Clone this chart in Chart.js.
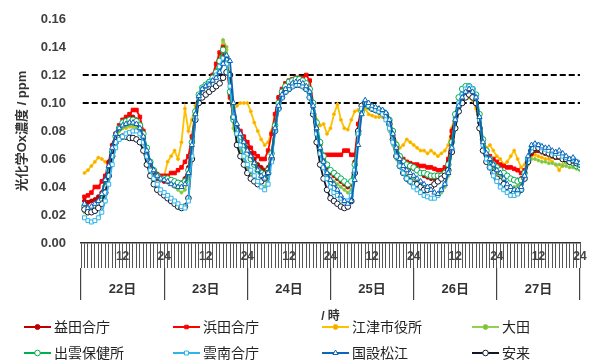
<!DOCTYPE html>
<html>
<head>
<meta charset="utf-8">
<script src="https://cdn.jsdelivr.net/npm/chart.js@4.4.0/dist/chart.umd.min.js"></script>
<style>
  body { margin: 0; background: #fff; }
  #wrap { width: 589px; height: 362px; }
</style>
</head>
<body>
<div id="wrap"><canvas id="ox-chart"></canvas></div>
<script>
// hourly photochemical oxidant, hour 1..24 for each day
const days = ['22日', '23日', '24日', '25日', '26日', '27日'];
const hours = Array.from({ length: 144 }, (_, i) => i + 1);
const warnLevels = [0.12, 0.10];

const masuda = [
  0.030,0.029,0.030,0.031,0.033,0.036,0.045,0.058,0.070,0.078,0.082,0.085,0.088,0.089,0.090,0.088,0.084,0.076,0.064,0.056,0.050,0.046,0.045,0.044,
  0.044,0.043,0.042,0.042,0.043,0.046,0.054,0.072,0.092,0.104,0.110,0.112,0.114,0.116,0.120,0.126,0.134,0.130,0.106,0.088,0.082,0.078,0.072,0.068,
  0.064,0.060,0.056,0.054,0.052,0.054,0.064,0.082,0.098,0.108,0.112,0.115,0.116,0.117,0.117,0.116,0.114,0.110,0.094,0.082,0.070,0.060,0.054,0.050,
  0.048,0.046,0.044,0.042,0.040,0.042,0.058,0.080,0.096,0.100,0.098,0.096,0.095,0.094,0.093,0.090,0.086,0.076,0.066,0.060,0.057,0.055,0.054,0.053,
  0.052,0.050,0.048,0.047,0.046,0.046,0.046,0.048,0.050,0.058,0.076,0.090,0.100,0.106,0.108,0.108,0.106,0.100,0.086,0.072,0.064,0.060,0.056,0.054,
  0.052,0.050,0.048,0.046,0.045,0.045,0.046,0.050,0.058,0.064,0.066,0.066,0.065,0.064,0.063,0.062,0.061,0.061,0.060,0.059,0.058,0.057,0.056,0.055
];
const hamada = [
  0.033,0.034,0.036,0.040,0.040,0.044,0.048,0.056,0.066,0.078,0.084,0.088,0.090,0.092,0.095,0.095,0.090,0.080,0.066,0.058,0.052,0.049,0.048,0.048,
  0.048,0.050,0.050,0.052,0.054,0.058,0.062,0.076,0.094,0.106,0.110,0.112,0.115,0.120,0.128,0.136,0.140,0.132,0.104,0.090,0.084,0.080,0.076,0.072,
  0.068,0.064,0.062,0.060,0.060,0.066,0.078,0.092,0.104,0.110,0.114,0.116,0.117,0.118,0.118,0.118,0.120,0.116,0.100,0.080,0.066,0.063,0.063,0.063,
  0.063,0.063,0.063,0.066,0.066,0.063,0.063,0.085,0.098,0.100,0.098,0.096,0.095,0.094,0.093,0.090,0.086,0.078,0.068,0.062,0.060,0.058,0.057,0.056,
  0.056,0.055,0.055,0.054,0.054,0.053,0.052,0.052,0.054,0.060,0.080,0.090,0.098,0.104,0.106,0.107,0.106,0.100,0.088,0.074,0.066,0.062,0.060,0.058,
  0.056,0.055,0.054,0.054,0.053,0.052,0.050,0.052,0.058,0.064,0.066,0.066,0.065,0.064,0.063,0.062,0.061,0.061,0.060,0.059,0.058,0.057,0.056,0.055
];
const gotsu = [
  0.050,0.052,0.055,0.058,0.061,0.060,0.058,0.056,0.062,0.074,0.080,0.082,0.082,0.083,0.083,0.082,0.080,0.074,0.064,0.056,0.052,0.050,0.048,0.048,
  0.058,0.062,0.066,0.060,0.072,0.096,0.080,0.088,0.098,0.106,0.110,0.112,0.115,0.118,0.124,0.134,0.144,0.138,0.112,0.096,0.098,0.100,0.100,0.100,
  0.094,0.086,0.080,0.074,0.070,0.072,0.080,0.092,0.102,0.108,0.112,0.114,0.115,0.116,0.116,0.115,0.112,0.106,0.096,0.088,0.084,0.085,0.078,0.082,
  0.092,0.099,0.088,0.082,0.081,0.088,0.094,0.095,0.098,0.096,0.092,0.091,0.090,0.090,0.090,0.088,0.084,0.078,0.072,0.068,0.070,0.074,0.072,0.070,
  0.068,0.066,0.066,0.064,0.066,0.064,0.062,0.064,0.066,0.070,0.082,0.092,0.098,0.102,0.104,0.104,0.102,0.096,0.082,0.072,0.068,0.070,0.066,0.062,
  0.060,0.056,0.058,0.062,0.066,0.060,0.054,0.056,0.060,0.062,0.063,0.062,0.061,0.060,0.060,0.058,0.056,0.052,0.056,0.058,0.057,0.056,0.055,0.054
];
const oda = [
  0.022,0.021,0.022,0.024,0.026,0.030,0.040,0.052,0.066,0.076,0.080,0.082,0.083,0.084,0.084,0.083,0.080,0.074,0.064,0.056,0.050,0.047,0.045,0.044,
  0.043,0.042,0.040,0.038,0.036,0.038,0.046,0.068,0.092,0.104,0.110,0.112,0.115,0.120,0.126,0.134,0.145,0.140,0.110,0.082,0.072,0.066,0.060,0.054,
  0.050,0.046,0.042,0.040,0.040,0.046,0.062,0.084,0.100,0.108,0.112,0.114,0.116,0.117,0.117,0.116,0.114,0.108,0.096,0.080,0.066,0.056,0.050,0.046,
  0.044,0.042,0.040,0.038,0.036,0.038,0.054,0.078,0.094,0.098,0.096,0.095,0.094,0.093,0.092,0.088,0.080,0.070,0.060,0.054,0.050,0.048,0.046,0.046,
  0.044,0.043,0.042,0.040,0.038,0.036,0.035,0.036,0.040,0.048,0.066,0.088,0.100,0.106,0.110,0.111,0.108,0.102,0.086,0.068,0.060,0.056,0.052,0.050,
  0.048,0.045,0.042,0.040,0.040,0.041,0.042,0.048,0.056,0.060,0.060,0.059,0.058,0.058,0.057,0.057,0.056,0.056,0.055,0.055,0.054,0.054,0.053,0.052
];
const izumo = [
  0.026,0.024,0.024,0.025,0.027,0.030,0.040,0.052,0.065,0.076,0.082,0.086,0.087,0.088,0.088,0.087,0.084,0.078,0.068,0.058,0.052,0.048,0.046,0.046,
  0.046,0.045,0.044,0.043,0.042,0.044,0.052,0.072,0.094,0.106,0.111,0.113,0.115,0.118,0.122,0.130,0.138,0.132,0.108,0.088,0.080,0.076,0.070,0.064,
  0.060,0.056,0.052,0.050,0.049,0.052,0.064,0.084,0.100,0.108,0.112,0.115,0.116,0.117,0.117,0.116,0.114,0.110,0.100,0.086,0.072,0.062,0.056,0.052,
  0.050,0.048,0.046,0.044,0.042,0.044,0.056,0.078,0.094,0.100,0.098,0.097,0.096,0.095,0.094,0.092,0.088,0.080,0.070,0.062,0.058,0.056,0.055,0.054,
  0.052,0.050,0.050,0.049,0.048,0.048,0.048,0.048,0.050,0.056,0.072,0.092,0.104,0.110,0.112,0.112,0.110,0.106,0.092,0.074,0.066,0.060,0.056,0.054,
  0.052,0.050,0.048,0.046,0.045,0.044,0.045,0.050,0.060,0.066,0.068,0.068,0.066,0.065,0.064,0.063,0.062,0.062,0.060,0.059,0.058,0.057,0.055,0.054
];
const unnan = [
  0.018,0.016,0.015,0.016,0.018,0.022,0.030,0.042,0.056,0.068,0.074,0.076,0.078,0.079,0.080,0.080,0.078,0.072,0.062,0.052,0.046,0.042,0.038,0.036,
  0.034,0.032,0.030,0.028,0.026,0.025,0.030,0.062,0.090,0.104,0.110,0.112,0.114,0.116,0.120,0.126,0.132,0.128,0.112,0.090,0.078,0.070,0.062,0.056,
  0.052,0.048,0.044,0.040,0.038,0.042,0.058,0.080,0.096,0.104,0.108,0.110,0.112,0.113,0.113,0.112,0.110,0.104,0.094,0.078,0.064,0.054,0.046,0.040,
  0.036,0.034,0.032,0.030,0.030,0.034,0.052,0.078,0.096,0.100,0.098,0.096,0.095,0.094,0.092,0.088,0.082,0.072,0.062,0.055,0.050,0.046,0.044,0.040,
  0.038,0.036,0.034,0.033,0.032,0.032,0.034,0.038,0.042,0.050,0.068,0.088,0.100,0.106,0.110,0.112,0.110,0.104,0.088,0.070,0.060,0.054,0.048,0.044,
  0.040,0.038,0.036,0.034,0.034,0.035,0.038,0.048,0.060,0.068,0.070,0.070,0.068,0.067,0.066,0.065,0.064,0.064,0.062,0.061,0.060,0.060,0.058,0.056
];
const matsue = [
  0.028,0.025,0.026,0.028,0.030,0.035,0.045,0.055,0.068,0.078,0.082,0.084,0.085,0.086,0.086,0.085,0.082,0.076,0.066,0.058,0.052,0.048,0.046,0.045,
  0.044,0.042,0.041,0.040,0.040,0.042,0.050,0.070,0.092,0.105,0.110,0.112,0.113,0.116,0.118,0.122,0.128,0.134,0.130,0.100,0.085,0.078,0.072,0.066,
  0.062,0.057,0.052,0.048,0.046,0.050,0.062,0.082,0.098,0.106,0.110,0.112,0.114,0.115,0.115,0.114,0.112,0.108,0.098,0.082,0.068,0.058,0.050,0.045,
  0.042,0.038,0.034,0.030,0.028,0.030,0.045,0.070,0.092,0.102,0.100,0.098,0.097,0.096,0.095,0.093,0.088,0.078,0.068,0.060,0.055,0.052,0.050,0.048,
  0.046,0.044,0.042,0.040,0.038,0.036,0.035,0.038,0.042,0.050,0.068,0.088,0.098,0.104,0.108,0.110,0.108,0.104,0.090,0.072,0.064,0.060,0.056,0.052,
  0.050,0.046,0.042,0.040,0.038,0.038,0.040,0.048,0.062,0.070,0.071,0.070,0.069,0.068,0.068,0.066,0.065,0.066,0.064,0.062,0.060,0.061,0.058,0.057
];
const yasugi = [
  0.024,0.022,0.022,0.023,0.025,0.028,0.036,0.048,0.062,0.072,0.075,0.076,0.076,0.075,0.075,0.074,0.072,0.066,0.056,0.048,0.042,0.038,0.036,0.034,
  0.032,0.030,0.028,0.026,0.025,0.026,0.032,0.060,0.088,0.100,0.104,0.106,0.108,0.110,0.112,0.114,0.118,0.122,0.120,0.090,0.070,0.062,0.056,0.050,
  0.046,0.044,0.042,0.044,0.046,0.050,0.060,0.080,0.096,0.104,0.108,0.110,0.112,0.113,0.113,0.112,0.110,0.104,0.092,0.072,0.056,0.046,0.038,0.032,
  0.030,0.028,0.026,0.025,0.026,0.030,0.050,0.080,0.098,0.100,0.098,0.096,0.095,0.094,0.093,0.090,0.085,0.074,0.062,0.055,0.050,0.046,0.044,0.042,
  0.042,0.040,0.038,0.038,0.040,0.042,0.044,0.046,0.048,0.052,0.065,0.082,0.094,0.100,0.104,0.106,0.104,0.100,0.082,0.066,0.058,0.054,0.050,0.046,
  0.044,0.042,0.040,0.038,0.036,0.036,0.038,0.046,0.058,0.066,0.068,0.068,0.066,0.065,0.064,0.063,0.062,0.062,0.060,0.060,0.058,0.059,0.057,0.056
];

const FONT = "'Liberation Sans', 'Noto Sans CJK JP', sans-serif";
Chart.defaults.font.family = FONT;

function station(label, values, color, pointStyle, fill, radius, order) {
  return {
    label: label,
    data: values.map((v, i) => ({ x: hours[i], y: v })),
    borderColor: color,
    borderWidth: 1.8,
    pointStyle: pointStyle,
    pointRadius: radius,
    pointBackgroundColor: fill,
    pointBorderColor: color,
    pointBorderWidth: 1,
    order: order,
    legendSlot: true
  };
}

function levelLine(v) {
  return {
    label: '',
    data: [{ x: 0.5, y: v }, { x: 144, y: v }],
    borderColor: '#000',
    borderWidth: 2,
    borderDash: [6, 3],
    pointRadius: 0,
    order: 20
  };
}

const datasets = [
  station('益田合庁', masuda, '#C00000', 'circle', '#C00000', 2, 5),
  station('浜田合庁', hamada, '#FF0000', 'rect', '#FF0000', 2.5, 6),
  station('江津市役所', gotsu, '#FFC000', 'circle', '#F5A800', 1.5, 8),
  station('大田', oda, '#92D050', 'circle', '#7DC040', 1.5, 7),
  station('出雲保健所', izumo, '#00B050', 'circle', '#FFFFFF', 2.8, 4),
  station('雲南合庁', unnan, '#2EB4EA', 'rect', '#FFFFFF', 2.8, 2),
  station('国設松江', matsue, '#0B66B8', 'triangle', '#FFFFFF', 3, 1),
  station('安来', yasugi, '#101828', 'circle', '#FFFFFF', 2.8, 3)
].concat(warnLevels.map(levelLine));

// legend in two rows of four under the day axis
const bottomLegend = {
  id: 'bottomLegend',
  afterDraw(chart) {
    const ctx = chart.ctx;
    const cols = [24, 173, 322, 472];
    const rows = [327, 353];
    let n = 0;
    chart.data.datasets.forEach(ds => {
      if (!ds.legendSlot) return;
      const x = cols[n % 4];
      const y = rows[Math.floor(n / 4)];
      ctx.save();
      ctx.strokeStyle = ds.borderColor;
      ctx.lineWidth = 2;
      ctx.beginPath();
      ctx.moveTo(x, y);
      ctx.lineTo(x + 27, y);
      ctx.stroke();
      ctx.fillStyle = ds.pointBackgroundColor;
      ctx.strokeStyle = ds.pointBorderColor;
      ctx.lineWidth = 1;
      Chart.helpers.drawPoint(ctx, { pointStyle: ds.pointStyle, radius: Math.max(ds.pointRadius, 2.5), borderWidth: 1 }, x + 13.5, y);
      ctx.fillStyle = '#222';
      ctx.font = '14px ' + FONT;
      ctx.textBaseline = 'middle';
      ctx.textAlign = 'left';
      ctx.fillText(ds.label, x + 30, y + 1);
      ctx.restore();
      n++;
    });
  }
};

new Chart(document.getElementById('ox-chart'), {
  type: 'line',
  data: { datasets: datasets },
  options: {
    responsive: true,
    maintainAspectRatio: false,
    animation: false,
    layout: { padding: { top: 19, right: 9, bottom: 38, left: 0 } },
    plugins: {
      legend: { display: false },
      tooltip: { enabled: false }
    },
    scales: {
      x: {
        type: 'linear',
        min: 0,
        max: 144,
        position: 'bottom',
        afterFit: s => { s.height = 25; },
        ticks: {
          stepSize: 1,
          autoSkip: false,
          maxRotation: 0,
          padding: -19,
          color: '#444',
          font: { size: 12, weight: 'bold' },
          callback: v => (v % 24 === 12 ? '12' : (v > 0 && v % 24 === 0 ? '24' : ''))
        },
        grid: { drawOnChartArea: false, tickLength: 25, color: '#555', lineWidth: 1 },
        border: { color: '#333', width: 1.5 }
      },
      days: {
        type: 'category',
        labels: days,
        position: 'bottom',
        offset: true,
        weight: 1,
        afterFit: s => { s.height = 56; },
        grid: { offset: true, drawOnChartArea: false, tickLength: 32, color: '#444', lineWidth: 1.2 },
        border: { display: false },
        ticks: { padding: -18, color: '#333', font: { size: 13, weight: 'bold' } },
        title: { display: true, text: '/ 時', color: '#333', font: { size: 12, weight: 'bold' }, padding: 0 }
      },
      y: {
        min: 0,
        max: 0.16,
        afterFit: s => { s.width = 81; },
        ticks: {
          stepSize: 0.02,
          padding: 7,
          color: '#404040',
          font: { size: 13, weight: 'bold' },
          callback: v => v.toFixed(2)
        },
        grid: { display: false },
        border: { display: false },
        title: {
          display: true,
          text: '光化学Ox濃度 / ppm',
          color: '#333',
          font: { size: 13, weight: 'bold' },
          padding: { top: 15, bottom: 0 }
        }
      }
    }
  },
  plugins: [bottomLegend]
});
</script>
</body>
</html>
